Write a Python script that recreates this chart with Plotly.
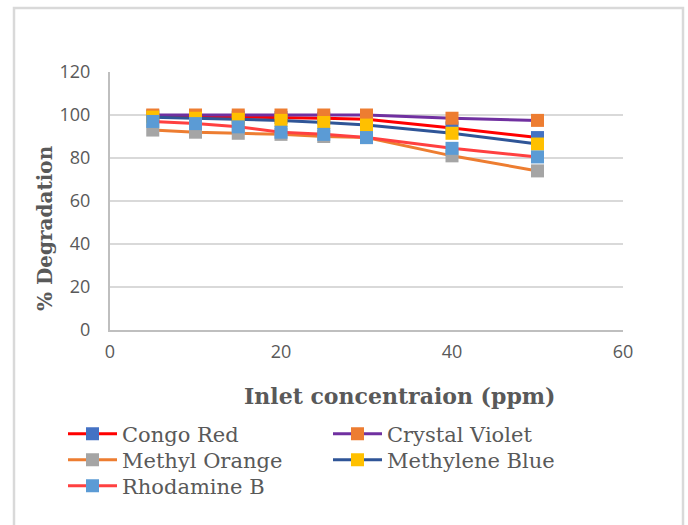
import plotly.graph_objects as go

conc = [5, 10, 15, 20, 25, 30, 40, 50]
congo_red = [99.5, 99, 99, 98.8, 98.5, 98, 94, 89.5]
crystal_violet = [100, 100, 100, 100, 100, 100, 98.5, 97.5]
methyl_orange = [93, 92, 91.5, 91, 90, 89.5, 81, 74]
methylene_blue = [99, 98.5, 98, 97.5, 96.5, 95.3, 91.5, 86.5]
rhodamine_b = [97, 96, 94.5, 92, 91, 89.5, 84.5, 80.5]

series = [
    ("Congo Red", congo_red, "#FF0000", "#4472C4", "legend"),
    ("Crystal Violet", crystal_violet, "#7030A0", "#ED7D31", "legend"),
    ("Methyl Orange", methyl_orange, "#ED7D31", "#A5A5A5", "legend2"),
    ("Methylene Blue", methylene_blue, "#2F5597", "#FFC000", "legend2"),
    ("Rhodamine B", rhodamine_b, "#FF4040", "#5B9BD5", "legend3"),
]

fig = go.Figure()
for name, vals, lc, mc, lg in series:
    fig.add_trace(go.Scatter(
        x=conc, y=vals, name=name, mode="lines+markers", legend=lg,
        line=dict(color=lc, width=3),
        marker=dict(symbol="square", size=13, color=mc, line=dict(width=0)),
    ))

grey = "#595959"


def leg(row_center_px):
    return dict(
        orientation="h", x=(63 - 110) / 513, y=-(row_center_px - 330) / 258,
        xanchor="left", yanchor="middle",
        entrywidth=201, tracegroupgap=0, itemwidth=49,
        font=dict(family="DejaVu Serif", size=21, color=grey),
        bgcolor="rgba(0,0,0,0)",
    )


fig.update_layout(
    width=688, height=525,
    margin=dict(l=110, r=65, t=72, b=195),
    paper_bgcolor="white", plot_bgcolor="white",
    showlegend=True,
    legend=leg(434), legend2=leg(460), legend3=leg(486),
    xaxis=dict(
        range=[0, 60], tickvals=[0, 20, 40, 60], showgrid=False,
        showline=True, linecolor="#BFBFBF", linewidth=2, zeroline=False,
        ticks="", ticklabelstandoff=4,
        tickfont=dict(family="Open Sans", size=18, color=grey),
    ),
    yaxis=dict(
        range=[0, 120], tickvals=[0, 20, 40, 60, 80, 100, 120],
        showgrid=True, gridcolor="#D9D9D9", gridwidth=1.5,
        showline=True, linecolor="#BFBFBF", linewidth=2, zeroline=False,
        ticks="", ticklabelstandoff=14,
        tickfont=dict(family="Open Sans", size=18, color=grey),
    ),
    annotations=[
        dict(text="<b>Inlet concentraion (ppm)</b>", xref="paper", yref="paper",
             x=(399 - 110) / 513, y=-(396 - 330) / 258, xanchor="center", yanchor="middle",
             showarrow=False, font=dict(family="DejaVu Serif", size=22, color=grey)),
        dict(text="<b>% Degradation</b>", xref="paper", yref="paper",
             x=-(110 - 45) / 513, y=(330 - 228) / 258, xanchor="center", yanchor="middle",
             textangle=-90, showarrow=False,
             font=dict(family="DejaVu Serif", size=20, color=grey)),
    ],
    shapes=[
        dict(type="rect", xref="paper", yref="paper",
             x0=-(110 - 14) / 513, x1=(683 - 110) / 513,
             y0=-(540 - 330) / 258, y1=(330 - 8) / 258,
             line=dict(color="#D9D9D9", width=2.5), layer="below"),
    ],
)

fig.write_html("out.html")
